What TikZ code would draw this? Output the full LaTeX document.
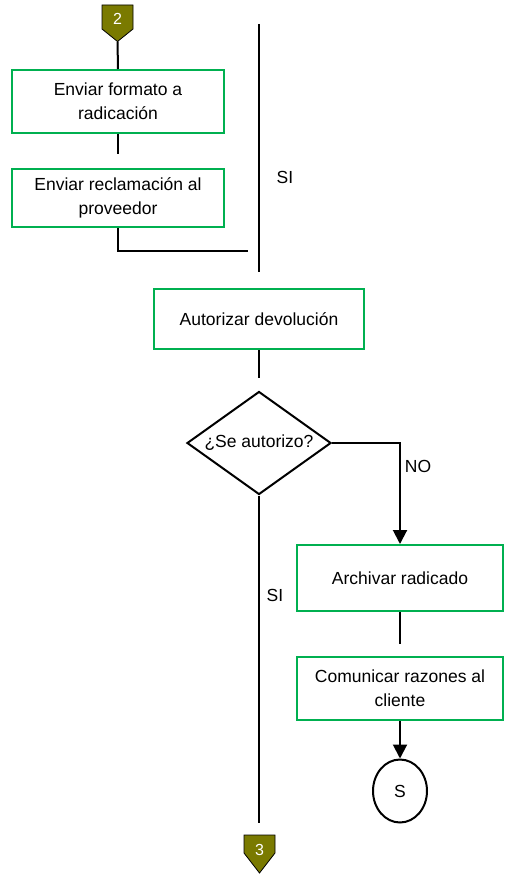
\documentclass[tikz,border=0pt]{standalone}
\usepackage{fontspec}
\setmainfont{Liberation Sans}
\usetikzlibrary{shapes.geometric,arrows.meta}
\definecolor{procgreen}{RGB}{0,176,80}
\definecolor{pageolive}{RGB}{122,122,0}
\begin{document}
\begin{tikzpicture}[x=1pt,y=-1pt,
  every node/.style={font=\fontsize{17.5}{24}\selectfont},
  process/.style={draw=procgreen,line width=2pt,fill=white,align=center,inner sep=2pt},
  decision/.style={draw=black,line width=2pt,diamond,minimum width=144pt,minimum height=103pt,inner sep=0pt,shape aspect=1.4},
  terminal/.style={draw=black,line width=2pt,ellipse,minimum width=54pt,minimum height=63pt,inner sep=0pt},
  flow/.style={line width=2pt,black},
  arrowflow/.style={flow,-{Triangle[length=14pt,width=14pt]}},
  offpage/.style={fill=pageolive,draw=black,line width=0.8pt},
  pagenum/.style={text=white,font=\fontsize{16}{16}\selectfont},
  tag/.style={font=\fontsize{17.5}{20}\selectfont}]
\useasboundingbox (0,0) rectangle (504,874);

% off-page connector 2
\path[offpage] (102,5) -- (133,5) -- (133,29) -- (117.5,41.5) -- (102,29) -- cycle;
\coordinate (p2tip) at (117.5,41.5);
\node[pagenum] (p2) at (117.5,19) {2};

% process boxes
\node[process,minimum width=212pt,minimum height=63pt] (b1) at (118,101.5) {Enviar formato a\\radicación};
\node[process,minimum width=212pt,minimum height=58pt] (b2) at (118,198) {Enviar reclamación al\\proveedor};
\node[process,minimum width=210pt,minimum height=60pt] (b3) at (259,319) {Autorizar devolución};
\node[decision] (d1) at (259,443) {¿Se autorizo?};
\node[process,minimum width=206pt,minimum height=66pt] (b4) at (400,578) {Archivar radicado};
\node[process,minimum width=206pt,minimum height=63pt] (b5) at (400,688.5) {Comunicar razones al\\cliente};
\node[terminal] (s) at (400,791) {S};

% off-page connector 3
\path[offpage] (244,835) -- (275,835) -- (275,853) -- (259.5,873) -- (244,853) -- cycle;
\coordinate (p3top) at (259,835);
\node[pagenum] (p3) at (259.5,850) {3};

% join line on the right of the first column
\coordinate (jtop) at (259,24);
\coordinate (jbot) at (259,272);
\coordinate (jin) at (248,251);
\draw[flow] (jtop) -- (jbot);

% connectors
\draw[flow] (p2tip) -- (b1.north);
\draw[flow,shorten >=14pt] (b1.south) -- (b2.north);
\draw[flow] (b2.south) |- (jin);
\draw[flow,shorten >=13pt] (b3.south) -- (d1.north);
\draw[arrowflow] (d1.east) -| (b4.north);
\draw[flow,shorten >=12pt] (b4.south) -- (b5.north);
\draw[arrowflow] (b5.south) -- (s.north);
\draw[flow,shorten >=12pt] (d1.south) -- (p3top);

% branch labels
\node[tag] (si1) at (285,177) {SI};
\node[tag] (no) at (418,466) {NO};
\node[tag] (si2) at (275,595) {SI};
\end{tikzpicture}
\end{document}
